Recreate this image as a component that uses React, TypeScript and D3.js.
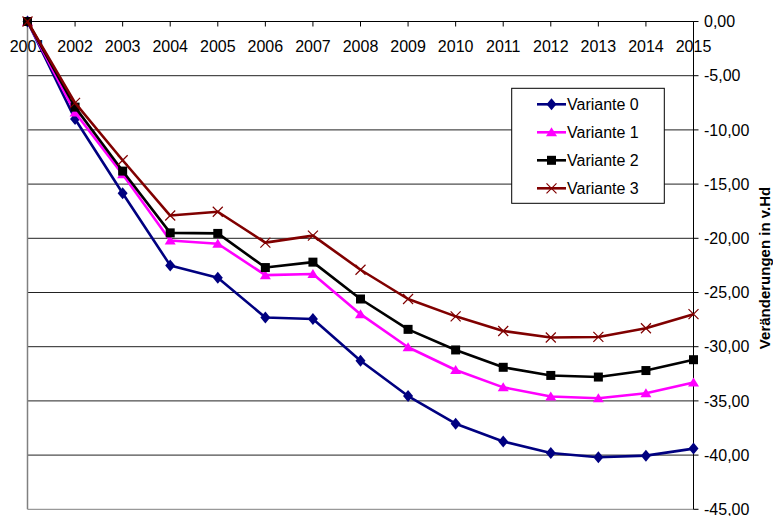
import React from "react";
import * as d3 from "d3";

const years = ["2001","2002","2003","2004","2005","2006","2007","2008","2009","2010","2011","2012","2013","2014","2015"];
const variante0 = [0, -9.0, -15.85, -22.5, -23.65, -27.3, -27.45, -31.3, -34.55, -37.1, -38.75, -39.8, -40.2, -40.05, -39.4];
const variante1 = [0, -8.4, -14.1, -20.2, -20.5, -23.4, -23.3, -27.0, -30.05, -32.15, -33.75, -34.6, -34.75, -34.3, -33.3];
const variante2 = [0, -7.9, -13.8, -19.5, -19.55, -22.7, -22.2, -25.6, -28.4, -30.3, -31.9, -32.65, -32.8, -32.2, -31.2];
const variante3 = [0, -7.5, -12.8, -17.9, -17.55, -20.4, -19.75, -22.9, -25.6, -27.2, -28.55, -29.15, -29.1, -28.3, -27.0];
const seriesNames = ["Variante 0", "Variante 1", "Variante 2", "Variante 3"];
const yTicks = [0, -5, -10, -15, -20, -25, -30, -35, -40, -45];
const yTitle = "Veränderungen in v.Hd";

const seriesData = [variante0, variante1, variante2, variante3];
const colors = ["#000080", "#FF00FF", "#000000", "#800000"];
const markerTypes = ["diamond", "triangle", "square", "x"];

const W = 773, H = 516;
const left = 27.5, right = 693.5, top = 21.5, bottom = 509.3;

function Marker({ type, x, y, color }: { type: string; x: number; y: number; color: string }) {
  if (type === "diamond") {
    return <path d={`M${x},${y - 6}L${x + 5},${y}L${x},${y + 6}L${x - 5},${y}Z`} fill={color} />;
  }
  if (type === "square") {
    return <rect x={x - 4.5} y={y - 4.5} width={9} height={9} fill={color} />;
  }
  if (type === "triangle") {
    return <path d={`M${x},${y - 5}L${x + 5.5},${y + 4}L${x - 5.5},${y + 4}Z`} fill={color} />;
  }
  return (
    <path d={`M${x - 5},${y - 5}L${x + 5},${y + 5}M${x - 5},${y + 5}L${x + 5},${y - 5}`} stroke={color} strokeWidth={1.2} fill="none" />
  );
}

export default function App() {
  const x = d3.scalePoint<string>().domain(years).range([left, right]);
  const y = d3.scaleLinear().domain([0, -45]).range([top, bottom]);
  const line = d3
    .line<number>()
    .x((_, i) => x(years[i]) as number)
    .y((d) => y(d));

  const font = "'Liberation Sans', Arial, sans-serif";
  const legX = 511.7, legY = 88.3, legW = 152.6, legH = 115;

  return (
    <svg width={W} height={H} style={{ position: "absolute", left: 0, top: 0, background: "#fff" }} fontFamily={font}>
      <rect x={0} y={0} width={W} height={H} fill="#fff" />
      {/* gridlines */}
      {yTicks.map((t) =>
        t === 0 ? null : (
          <line key={t} x1={left} x2={right} y1={y(t)} y2={y(t)} stroke={t === -45 ? "#808080" : "#222"} strokeWidth={1} />
        )
      )}
      {/* left border */}
      <line x1={left} x2={left} y1={top} y2={bottom} stroke="#808080" strokeWidth={1.5} />
      {/* top axis */}
      <line x1={left} x2={right} y1={top} y2={top} stroke="#000" strokeWidth={1} />
      {years.map((yr, i) =>
        i === 0 ? null : (
          <line key={yr} x1={x(yr)} x2={x(yr)} y1={top} y2={top + 5} stroke="#000" strokeWidth={1} />
        )
      )}
      {years.map((yr) => (
        <text key={yr} x={x(yr)} y={51.5} textAnchor="middle" fontSize={16} fill="#000">
          {yr}
        </text>
      ))}
      {/* right axis */}
      <line x1={right} x2={right} y1={top} y2={bottom} stroke="#000" strokeWidth={1} />
      {yTicks.map((t) => (
        <g key={t}>
          <line x1={right} x2={right + 5} y1={y(t)} y2={y(t)} stroke="#000" strokeWidth={1} />
          <text x={704} y={y(t)} dy="0.36em" fontSize={16} fill="#000">
            {d3.format(".2f")(t).replace(".", ",").replace("−", "-")}
          </text>
        </g>
      ))}
      <text
        transform={`translate(770,268) rotate(-90)`}
        textAnchor="middle"
        fontSize={15}
        fontWeight="bold"
        fill="#000"
      >
        {yTitle}
      </text>
      {/* series */}
      {seriesData.map((data, si) => (
        <g key={si}>
          <path d={line(data) || ""} fill="none" stroke={colors[si]} strokeWidth={2.6} strokeLinejoin="round" />
          {data.map((v, i) => (
            <Marker key={i} type={markerTypes[si]} x={x(years[i]) as number} y={y(v)} color={colors[si]} />
          ))}
        </g>
      ))}
      {/* legend */}
      <rect x={legX} y={legY} width={legW} height={legH} fill="#fff" stroke="#000" strokeWidth={1} />
      {seriesNames.map((name, i) => {
        const ly = 104.3 + i * 28;
        return (
          <g key={name}>
            <line x1={537} x2={566} y1={ly} y2={ly} stroke={colors[i]} strokeWidth={2.6} />
            <Marker type={markerTypes[i]} x={551.5} y={ly} color={colors[i]} />
            <text x={567} y={ly} dy="0.36em" fontSize={16} fill="#000">
              {name}
            </text>
          </g>
        );
      })}
    </svg>
  );
}
